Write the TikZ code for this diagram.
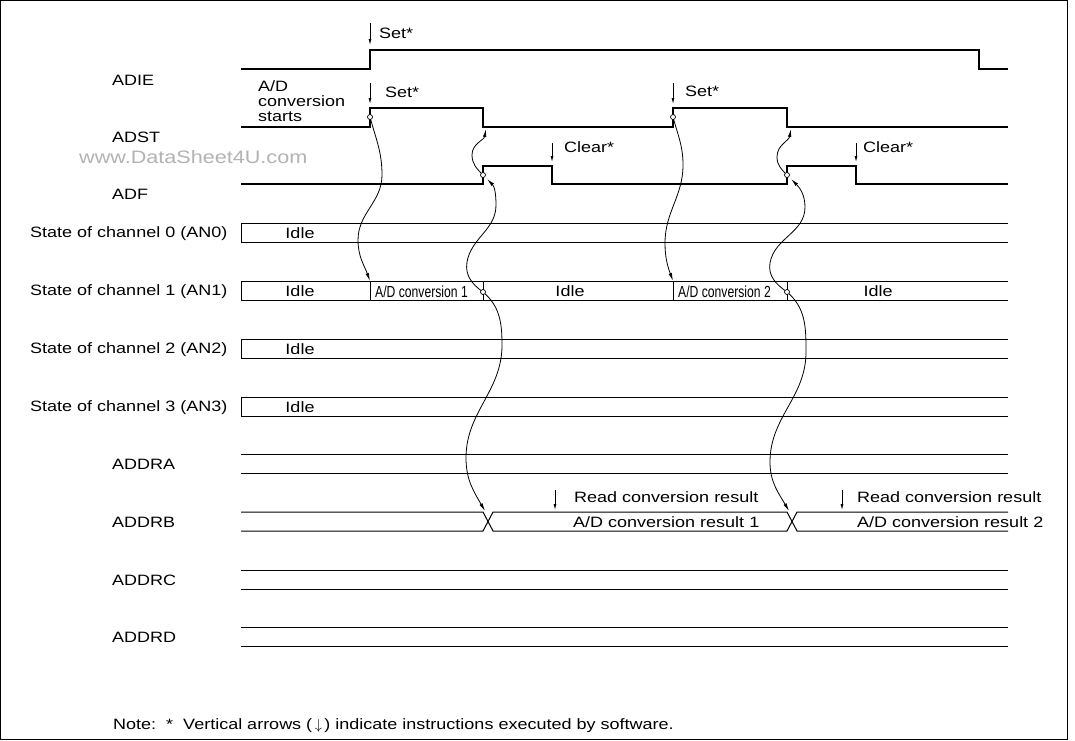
\documentclass[tikz,border=0pt]{standalone}
\usepackage{fontspec}
\setmainfont{Liberation Sans}[FakeStretch=1.2]
\newfontfamily\narrowfont{Liberation Sans}[FakeStretch=0.76]
\usetikzlibrary{arrows.meta,positioning}

\begin{document}
\begin{tikzpicture}[
  x=1pt, y=1pt,
  font=\fontsize{15}{15}\selectfont,
  wave/.style={line width=1.3pt, line join=miter},
  row/.style={line width=1pt},
  link/.style={line width=0.8pt, -{Latex[length=8pt,width=3.5pt]}},
  sw/.style={line width=0.8pt, -{Latex[length=6pt,width=3pt]}},
  lbl/.style={anchor=west, inner sep=0pt},
  small/.style={anchor=west, inner sep=0pt, font=\narrowfont\fontsize{16}{16}\selectfont},
  tap/.style={line width=0.7pt},
]

%% ── Frame ────────────────────────────────────────────────────────
\useasboundingbox (0,0) rectangle (1075,-740);
\draw[line width=1pt] (0.5,-0.5) rectangle (1067,-739.5);

%% ── Signal names ─────────────────────────────────────────────────
\node[lbl] (adie) at (112,-80)  {ADIE};
\node[lbl] (adst) at (112,-137) {ADST};
\node[lbl] (adf)  at (112,-194) {ADF};
\node[lbl, text=black!30, font=\fontsize{18}{18}\selectfont] (wm) at (79,-157)
      {www.DataSheet4U.com};

%% ── Flag waveforms ───────────────────────────────────────────────
\draw[wave] (241,-69) -- (370,-69) -- (370,-50) -- (979,-50) -- (979,-69) -- (1008,-69);
\draw[wave] (241,-127) -- (370,-127) -- (370,-108) -- (483,-108) -- (483,-127)
            -- (673,-127) -- (673,-108) -- (787,-108) -- (787,-127) -- (1008,-127);
\draw[wave] (241,-184) -- (483,-184) -- (483,-166) -- (552,-166) -- (552,-184)
            -- (787,-184) -- (787,-166) -- (856,-166) -- (856,-184) -- (1008,-184);

%% ── Software instructions ────────────────────────────────────────
\coordinate (swie)  at (370,-23);
\coordinate (swst1) at (370,-83);
\coordinate (swst2) at (673,-83);
\coordinate (swcl1) at (552,-143);
\coordinate (swcl2) at (856,-143);
\coordinate (swrd1) at (555,-490);
\coordinate (swrd2) at (842,-490);
\draw[sw] (swie)  -- ++(0,-22);
\draw[sw] (swst1) -- ++(0,-21);
\draw[sw] (swst2) -- ++(0,-21);
\draw[sw] (swcl1) -- ++(0,-19);
\draw[sw] (swcl2) -- ++(0,-19);
\draw[sw] (swrd1) -- ++(0,-20);
\draw[sw] (swrd2) -- ++(0,-20);
\node[lbl] (setie)  at (379,-33)  {Set*};
\node[lbl] (setst1) at (385,-92)  {Set*};
\node[lbl] (setst2) at (685,-91)  {Set*};
\node[lbl] (clr1)   at (564,-147) {Clear*};
\node[lbl] (clr2)   at (863,-147) {Clear*};
\node[lbl, align=left, font=\fontsize{15}{15}\selectfont] (start) at (258,-101)
      {A/D\\conversion\\starts};

%% ── Channel states ───────────────────────────────────────────────
\foreach \i/\y in {0/223,1/281,2/339,3/397} {
  \draw[row] (1008,-\y) -- (241,-\y) -- (241,{-\y-19}) -- (1008,{-\y-19});
  \node[lbl] (ch\i) at (30,{-\y-11}) {State of channel \i\ (AN\i)};
}
\foreach \i/\y in {0/223,2/339,3/397}
  \node[anchor=center, inner sep=0pt] (idle\i) at (300,{-\y-10}) {Idle};
\draw[row] (370,-281) -- (370,-300) (483,-281) -- (483,-300)
           (673,-281) -- (673,-300) (787,-281) -- (787,-300);
\node[anchor=center, inner sep=0pt] (idle1a) at (300,-291) {Idle};
\node[anchor=center, inner sep=0pt] (idle1b) at (570,-291) {Idle};
\node[anchor=center, inner sep=0pt] (idle1c) at (878,-291) {Idle};
\node[small] (conv1) at (375,-292) {A/D conversion 1};
\node[small] (conv2) at (678,-292) {A/D conversion 2};

%% ── Data registers ───────────────────────────────────────────────
\foreach \n/\y in {A/454,C/570,D/627} {
  \draw[row] (241,-\y) -- (1008,-\y) (241,{-\y-19}) -- (1008,{-\y-19});
  \node[lbl] (addr\n) at (112,{-\y-10}) {ADDR\n};
}
\draw[row] (241,-512) -- (483,-512) -- (493,-531) -- (787,-531) -- (797,-512) -- (1008,-512);
\draw[row] (241,-531) -- (483,-531) -- (493,-512) -- (787,-512) -- (797,-531) -- (1008,-531);
\node[lbl] (addrB) at (112,-522) {ADDRB};
\node[lbl] (rd1)  at (574,-497) {Read conversion result};
\node[lbl] (rd2)  at (857,-497) {Read conversion result};
\node[lbl] (res1) at (573,-522) {A/D conversion result 1};
\node[lbl] (res2) at (857,-522) {A/D conversion result 2};

%% ── Event points ─────────────────────────────────────────────────
\coordinate (st1) at (370,-117);  \coordinate (st2) at (673,-117);
\coordinate (ov1) at (483,-175);  \coordinate (ov2) at (787,-175);
\coordinate (ed1) at (483,-292);  \coordinate (ed2) at (787,-292);
\coordinate (cv1) at (370,-281);  \coordinate (cv2) at (673,-281);
\coordinate (fa1) at (486,-129);  \coordinate (fa2) at (791,-129);
\coordinate (fi1) at (487,-179);  \coordinate (fi2) at (791,-179);
\coordinate (xb1) at (485,-511);  \coordinate (xb2) at (789,-511);

%% ── Cause / effect links ─────────────────────────────────────────
\draw[link] (st1) to[out=-75,in=90] (382,-175) to[out=-90,in=90] (358,-240)
            to[out=-90,in=110] (cv1);
\draw[link] (ov1) to[out=135,in=-90] (472,-155) to[out=90,in=-100] (fa1);
\draw[link] (ed1) to[out=145,in=-100] (467,-262) to[out=80,in=-90] (496,-205)
            to[out=90,in=-45] (fi1);
\draw[link] (ed1) to[out=-40,in=90] (502,-345) to[out=-90,in=90] (466,-458)
            to[out=-90,in=120] (xb1);

\draw[link] (st2) to[out=-75,in=90] (683,-165) to[out=-90,in=90] (665,-243)
            to[out=-90,in=110] (cv2);
\draw[link] (ov2) to[out=135,in=-90] (777,-157) to[out=90,in=-100] (fa2);
\draw[link] (ed2) to[out=145,in=-100] (770,-263) to[out=80,in=-90] (805,-207)
            to[out=90,in=-45] (fi2);
\draw[link] (ed2) to[out=-40,in=90] (806,-352) to[out=-90,in=90] (770,-462)
            to[out=-90,in=120] (xb2);

\foreach \p in {st1,st2,ov1,ov2,ed1,ed2}
  \draw[tap, fill=white] (\p) circle (2.5);

%% ── Note ─────────────────────────────────────────────────────────
\node[lbl] (note) at (113,-726)
      {Note:\ \ *\ \ Vertical arrows (\,$\downarrow$\,) indicate instructions executed by software.};

\end{tikzpicture}
\end{document}
